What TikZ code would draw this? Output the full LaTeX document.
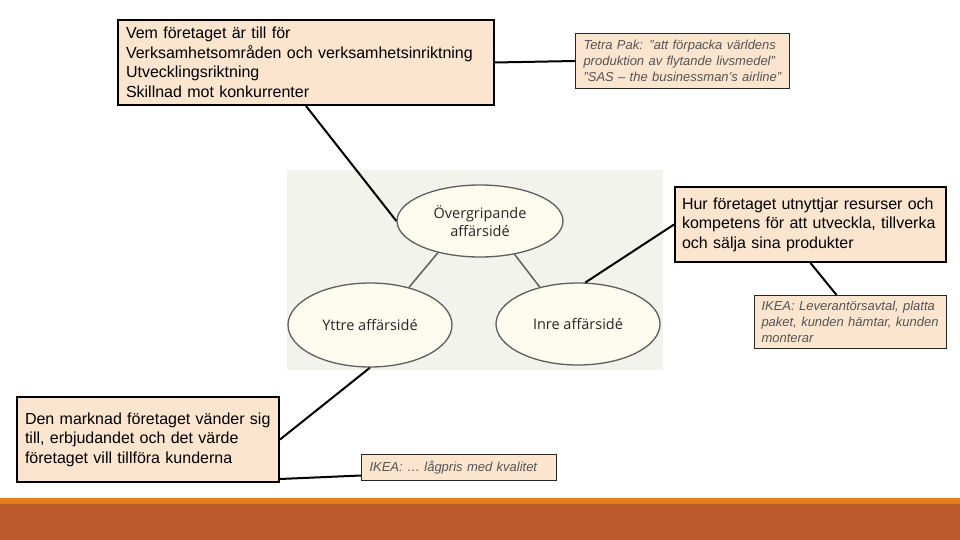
\documentclass[tikz,border=0pt]{standalone}
\usepackage{fontspec}
\setmainfont{Liberation Sans}
\newfontfamily\ellfont{Open Sans}
\usetikzlibrary{shapes.geometric, calc}
\definecolor{boxfill}{HTML}{FBE5CF}
\definecolor{notegray}{HTML}{555555}
\definecolor{imgbg}{HTML}{F3F3EE}
\definecolor{ellfill}{HTML}{FDFBEE}
\definecolor{ellline}{HTML}{5E5E5E}
\definecolor{barorange}{HTML}{E0801C}
\definecolor{barrust}{HTML}{BD5A2C}

\begin{document}
\begin{tikzpicture}[
  x=1pt, y=-1pt,
  box/.style={draw, line width=2pt, fill=boxfill, anchor=north west,
              align=left, inner xsep=8pt, inner ysep=0pt,
              font=\fontsize{16}{19.5}\selectfont},
  note/.style={draw=black!85, line width=1pt, fill=boxfill, anchor=north west,
               align=left, inner xsep=8pt, inner ysep=0pt, text=notegray,
               font=\itshape\fontsize{13}{16}\selectfont},
  idea/.style={ellipse, draw=ellline, line width=1.3pt, fill=ellfill,
               align=center, text=black!85, font=\ellfont\fontsize{14.5}{18}\selectfont},
  link/.style={line width=2pt},
  tie/.style={draw=ellline, line width=1.5pt}
]
  \useasboundingbox (0,0) rectangle (960,540);

  % picture of the model
  \fill[imgbg] (287,170) rectangle (663,370);
  \node[idea, minimum width=166pt, minimum height=72pt] (over) at (480,221) {Övergripande\\affärsidé};
  \node[idea, minimum width=164pt, minimum height=84pt] (yttre) at (370,325) {Yttre affärsidé};
  \node[idea, minimum width=164pt, minimum height=82pt] (inre) at (578,324) {Inre affärsidé};
  \draw[tie] (over.217) -- (yttre.44);
  \draw[tie] (over.316) -- (inre.136);

  % text boxes
  \node[box, text width=360pt, minimum height=85pt] (vem) at (117,19)
    {Vem företaget är till för\\Verksamhetsområden och verksamhetsinriktning\\Utvecklingsriktning\\Skillnad mot konkurrenter};
  \node[note, text width=198pt, minimum height=55pt] (tetra) at (575,33)
    {Tetra Pak: ”att förpacka världens\\produktion av flytande livsmedel”\\”SAS – the businessman’s airline”};
  \node[box, text width=257pt, minimum height=75pt, inner xsep=7pt] (hur) at (674,186)
    {Hur företaget utnyttjar resurser och\\kompetens för att utveckla, tillverka\\och sälja sina produkter};
  \node[note, text width=178pt, minimum height=53pt, inner xsep=7pt] (ikeainre) at (754,295)
    {IKEA: Leverantörsavtal, platta\\paket, kunden hämtar, kunden\\monterar};
  \node[box, text width=246pt, minimum height=85pt] (marknad) at (16,396)
    {Den marknad företaget vänder sig\\till, erbjudandet och det värde\\företaget vill tillföra kunderna};
  \node[note, text width=179pt, minimum height=26pt] (ikeayttre) at (361,454)
    {IKEA: … lågpris med kvalitet};

  % connectors
  \draw[link] (vem.east) -- (tetra.west);
  \draw[link] (vem.south) -- (over.west);
  \draw[link] (hur.west) -- (inre.80);
  \draw[link] (hur.south) -- ([xshift=-14pt]ikeainre.north);
  \draw[link] (marknad.east) -- (yttre.south);
  \draw[link] ([yshift=4pt]marknad.south east) -- ([yshift=-8pt]ikeayttre.west);

  % footer bars
  \fill[barorange] (0,498) rectangle (960,504);
  \fill[barrust] (0,504) rectangle (960,540);
\end{tikzpicture}
\end{document}
